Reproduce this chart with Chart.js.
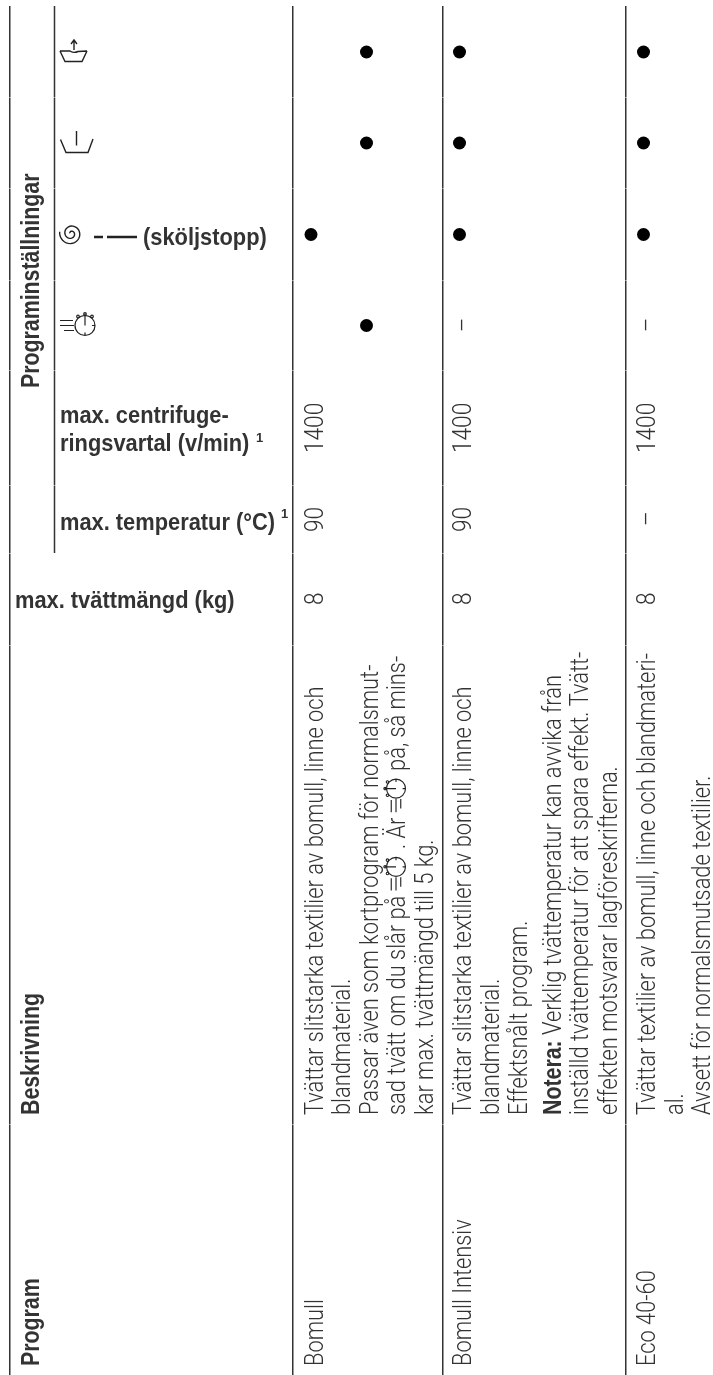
<!DOCTYPE html>
<html>
<head>
<meta charset="utf-8">
<style>
html,body{margin:0;padding:0;background:#fff}
canvas{display:block}
</style>
<script src="https://cdn.jsdelivr.net/npm/chart.js@4"></script>
</head>
<body>
<canvas id="c" width="713" height="1375"></canvas>
<script>
// table content
const rowNames = ["Bomull", "Bomull Intensiv", "Eco 40-60"]
const maxLoad = ["8", "8", "8"]
const maxTemp = ["90", "90", "–"]
const maxSpin = ["1400", "1400", "1400"]
// settings columns: [row, text line of that row, column]
const optionMarks = [[0,0,2],[0,2,0],[0,2,1],[0,2,3],[1,0,0],[1,0,1],[1,0,2],[2,0,0],[2,0,1],[2,0,2]]
const optionDashes = [[1,0,3],[2,0,3]]
const descRow0 = [
  "Tvättar slitstarka textilier av bomull, linne och",
  "blandmaterial.",
  "Passar även som kortprogram för normalsmut-",
  "sad tvätt om du slår på @ . Är @ på, så mins-",
  "kar max. tvättmängd till 5 kg."
]
const descRow1 = [
  "Tvättar slitstarka textilier av bomull, linne och",
  "blandmaterial.",
  "Effektsnålt program.",
  "**Notera:** Verklig tvättemperatur kan avvika från",
  "inställd tvättemperatur för att spara effekt. Tvätt-",
  "effekten motsvarar lagföreskrifterna."
]
const descRow2 = [
  "Tvättar textilier av bomull, linne och blandmateri-",
  "al.",
  "Avsett för normalsmutsade textilier."
]

// page layout, all in canvas units
const ruleX = [10, 293, 442.5, 625.5]
const subRuleX = 54.5
const jointY = [97, 188, 280, 371, 485, 553, 645, 1124]
const lineX = [
  [322.5, 350, 378, 405, 432.5],
  [471, 499, 527, 561, 588, 616.5],
  [655, 682.5, 710]
]
const optionY = [52, 143, 234.5, 325.5]
const LIGHT = '300 26px Roboto, "Liberation Sans", sans-serif'
const BOLD = 'bold 26px "Liberation Sans", Arial, sans-serif'
const INK = "#333"

function put(ctx, str, x, y, o){
  ctx.save()
  ctx.translate(x, y)
  if(o.up) ctx.rotate(-Math.PI/2)
  ctx.scale(o.sx, o.sy || 1)
  ctx.font = o.font
  ctx.fillStyle = o.color || INK
  ctx.textBaseline = "alphabetic"
  ctx.fillText(str, 0, 0)
  ctx.restore()
}

// stopwatch with speed lines, centred on 0,0, drawn in whatever frame is current
function clockIcon(ctx, k){
  ctx.save()
  ctx.scale(k, k)
  ctx.strokeStyle = "#222"
  ctx.lineWidth = 1.2
  ctx.beginPath()
  ctx.arc(8, 0, 10, 0, Math.PI*2)
  ctx.moveTo(8, 0); ctx.lineTo(8, -12)
  ctx.moveTo(-17, -5); ctx.lineTo(-4, -5)
  ctx.moveTo(-17, 0); ctx.lineTo(-3, 0)
  ctx.moveTo(-13, 5); ctx.lineTo(-3, 5)
  ctx.moveTo(18, 0); ctx.lineTo(15, 0)
  ctx.moveTo(8, 10); ctx.lineTo(8, 7)
  ctx.stroke()
  ctx.beginPath(); ctx.arc(1, -9, 1.3, 0, Math.PI*2); ctx.stroke()
  ctx.beginPath(); ctx.arc(15, -9, 1.3, 0, Math.PI*2); ctx.stroke()
  ctx.beginPath(); ctx.arc(8, -11.5, 1.3, 0, Math.PI*2); ctx.stroke()
  ctx.restore()
}

function drawHeaderIcons(ctx, sx, sy){
  ctx.save()
  ctx.strokeStyle = "#222"
  ctx.lineWidth = 1.4
  // rinse basin
  ctx.beginPath()
  ctx.moveTo(sx(60), sy(51)); ctx.lineTo(sx(65), sy(61.5)); ctx.lineTo(sx(82), sy(61.5)); ctx.lineTo(sx(87), sy(51))
  ctx.moveTo(sx(60), sy(51)); ctx.lineTo(sx(70), sy(51))
  ctx.quadraticCurveTo(sx(74), sy(53.5), sx(78), sy(51.5)); ctx.lineTo(sx(87), sy(51))
  ctx.moveTo(sx(74), sy(50)); ctx.lineTo(sx(74), sy(41))
  ctx.moveTo(sx(71), sy(44)); ctx.lineTo(sx(74), sy(40)); ctx.lineTo(sx(77), sy(44))
  ctx.stroke()
  // wash basin
  ctx.beginPath()
  ctx.moveTo(sx(60.5), sy(139.5)); ctx.lineTo(sx(66), sy(152.5)); ctx.lineTo(sx(88), sy(152.5)); ctx.lineTo(sx(93), sy(139))
  ctx.moveTo(sx(76.5), sy(131)); ctx.lineTo(sx(76.5), sy(145.5))
  ctx.stroke()
  // spiral
  ctx.beginPath()
  for(let i=0;i<=60;i++){
    const a = i/60*Math.PI*4 + 3.3
    const r = 1 + i/60*10.5
    const px = sx(71)+Math.cos(a)*r, py = sy(233.5)+Math.sin(a)*r
    if(i==0) ctx.moveTo(px,py); else ctx.lineTo(px,py)
  }
  ctx.stroke()
  // two stroke dashes before (sköljstopp)
  ctx.lineWidth = 2.4
  ctx.beginPath()
  ctx.moveTo(sx(94), sy(237)); ctx.lineTo(sx(103), sy(237))
  ctx.moveTo(sx(107), sy(237)); ctx.lineTo(sx(137), sy(237))
  ctx.stroke()
  ctx.restore()
  ctx.save()
  ctx.translate(sx(77), sy(325.5))
  clockIcon(ctx, 1)
  ctx.restore()
}

const up = {up:true, font:LIGHT, sx:0.84}
const upNum = {up:true, font:LIGHT, sx:0.87}
const upBold = {up:true, font:BOLD, sx:0.82}
const flatBold = {font:BOLD.replace("26px","24px"), sx:0.91}

// one description line, with **bold** spans and @ for the stopwatch
function putLine(ctx, str, x, y){
  const parts = str.split(/(\*\*.*?\*\*|@)/).filter(p=>p!=="")
  let at = y
  parts.forEach(p=>{
    if(p=="@"){
      ctx.save()
      ctx.translate(x-9, at-16)
      ctx.rotate(-Math.PI/2)
      clockIcon(ctx, 0.95)
      ctx.restore()
      at -= 36
    }else{
      const bold = p.startsWith("**")
      const t = bold ? p.slice(2,-2) : p
      const o = bold ? upBold : up
      put(ctx, t, x, at, o)
      ctx.save(); ctx.font = o.font
      at -= ctx.measureText(t).width*o.sx
      ctx.restore()
    }
  })
}

const tableText = {
  id:"tableText",
  afterDraw(chart){
    const ctx = chart.ctx
    const sx = v=>chart.scales.x.getPixelForValue(v)
    const sy = v=>chart.scales.y.getPixelForValue(v)
    // headers
    put(ctx, "Program", sx(39), sy(1366), upBold)
    put(ctx, "Beskrivning", sx(39), sy(1115), upBold)
    put(ctx, "Programinställningar", sx(39), sy(388), upBold)
    put(ctx, "max. tvättmängd (kg)", sx(15), sy(608), flatBold)
    put(ctx, "max. temperatur (°C)", sx(60), sy(530), flatBold)
    put(ctx, "1", sx(281), sy(518), {font:'bold 13px "Liberation Sans"', sx:1})
    put(ctx, "max. centrifuge-", sx(60), sy(423), flatBold)
    put(ctx, "ringsvartal (v/min)", sx(60), sy(451), flatBold)
    put(ctx, "1", sx(256), sy(442), {font:'bold 13px "Liberation Sans"', sx:1})
    put(ctx, "(sköljstopp)", sx(143), sy(245), flatBold)
    drawHeaderIcons(ctx, sx, sy)
    // rows
    const descs = [descRow0, descRow1, descRow2]
    rowNames.forEach((name,r)=>{
      const x = sx(lineX[r][0])
      put(ctx, name, x, sy(1366), up)
      descs[r].forEach((l,i)=>putLine(ctx, l, sx(lineX[r][i]), sy(1115)))
      put(ctx, maxLoad[r], x, sy(605), upNum)
      put(ctx, maxTemp[r], x, sy(maxTemp[r]=="–" ? 526 : 532), upNum)
      put(ctx, maxSpin[r], x, sy(453), upNum)
    })
    optionDashes.forEach(d=>{
      put(ctx, "–", sx(lineX[d[0]][d[1]]), sy(optionY[d[2]]+6.5), up)
    })
  }
}

new Chart(document.getElementById("c"), {
  type:"scatter",
  data:{
    datasets:[
      {
        data: optionMarks.map(m=>({x:lineX[m[0]][m[1]]-11.5, y:optionY[m[2]]})),
        pointRadius:6.5,
        pointBackgroundColor:"#000",
        pointBorderWidth:0
      },
      {
        type:"line",
        data:[{x:subRuleX,y:6},{x:subRuleX,y:553}],
        borderColor:INK,
        borderWidth:1.5,
        pointRadius:0
      }
    ]
  },
  options:{
    responsive:false,
    animation:false,
    events:[],
    layout:{autoPadding:false, padding:{top:6,left:0,right:0,bottom:0}},
    plugins:{legend:{display:false},tooltip:{enabled:false}},
    scales:{
      x:{
        type:"linear", min:0, max:713,
        afterBuildTicks:s=>{s.ticks = ruleX.map(v=>({value:v}))},
        ticks:{display:false},
        border:{display:false},
        grid:{color:INK, lineWidth:1.5, drawTicks:false}
      },
      y:{
        type:"linear", min:6, max:1375, reverse:true,
        afterBuildTicks:s=>{s.ticks = jointY.map(v=>({value:v}))},
        ticks:{display:false},
        border:{display:false},
        grid:{color:"rgba(255,255,255,.45)", lineWidth:1, drawTicks:false, z:1}
      }
    }
  },
  plugins:[tableText]
})
</script>
</body>
</html>
